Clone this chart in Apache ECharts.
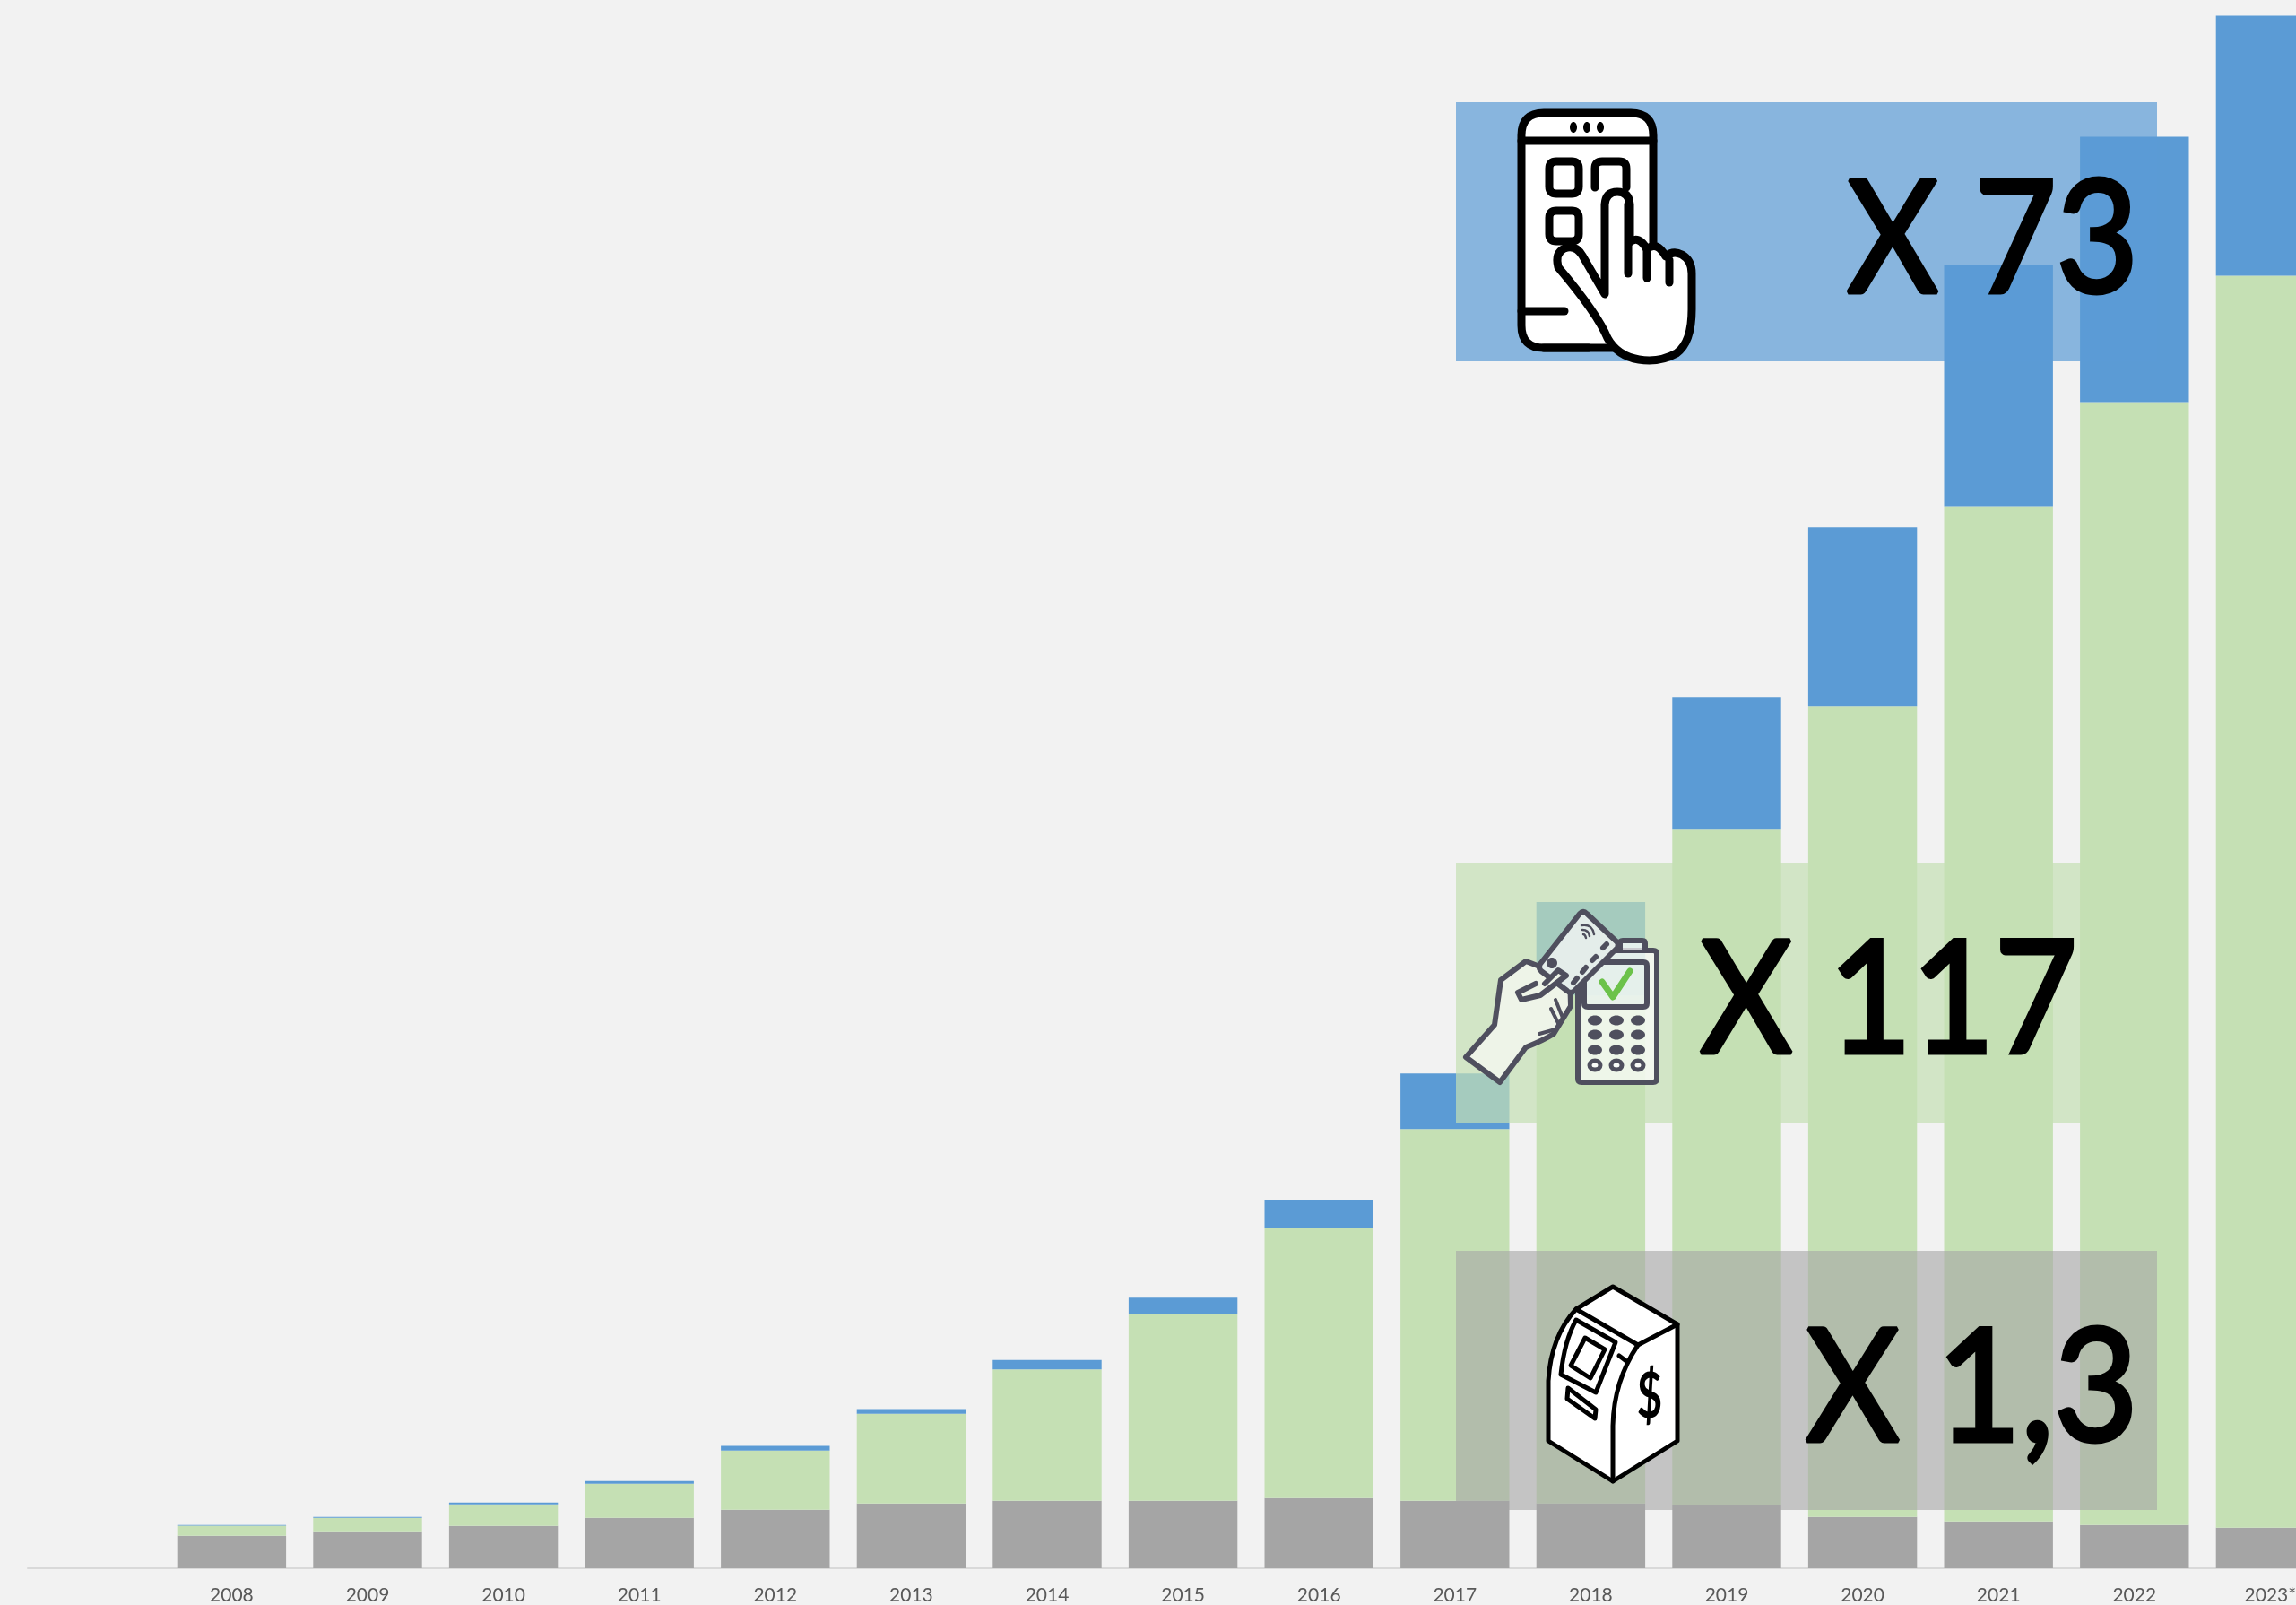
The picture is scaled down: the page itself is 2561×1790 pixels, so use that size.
<!DOCTYPE html>
<html>
<head>
<meta charset="utf-8">
<style>html,body{margin:0;padding:0;background:#f2f2f2;overflow:hidden;width:2561px;height:1790px}#c{width:2620px;height:1790px}</style>
<script src="https://cdn.jsdelivr.net/npm/echarts@6/dist/echarts.min.js"></script>
</head>
<body>
<div id="c"></div>
<script>
const years = ['', '2008','2009','2010','2011','2012','2013','2014','2015','2016','2017','2018','2019','2020','2021','2022','2023*'];
const cashValues   = [0, 3.63, 4.03, 4.73, 5.63, 6.53, 7.23, 7.53, 7.53, 7.83, 7.53, 7.23, 7.03, 5.73, 5.23, 4.83, 4.53];
const cardValues   = [0, 1.13, 1.6, 2.4, 3.8, 6.6, 10.0, 14.67, 20.87, 30.1, 41.47, 56.67, 75.4, 90.5, 113.3, 125.3, 139.7];
const mobileValues = [0, 0.07, 0.1, 0.2, 0.3, 0.53, 0.53, 1.03, 1.8, 3.2, 6.2, 10.43, 14.8, 19.9, 26.87, 29.6, 29.03];
const multipliers = ['X 73', 'X 117', 'X 1,3'];

const BLUE = '#5B9BD5', GREEN = '#C5E0B4', GRAY = '#A5A5A5';
let zc = 10, pc = 0;
const path = (d, style) => {
  const name = 'iconPath' + (pc++);
  echarts.graphic.registerShape(name, echarts.graphic.extendPath(d));
  return {type:name, z:zc++, style:Object.assign({lineJoin:'round',lineCap:'round'}, style)};
};
const rect = (x,y,w,h,fill,opacity) => ({type:'rect', z:zc++, shape:{x,y,width:w,height:h}, style:{fill,opacity}});
const ell = (cx,cy,rx,ry,style) => ({type:'ellipse', z:zc++, shape:{cx,cy,rx,ry}, style});
const label = (t,x,y,sx) => ({type:'text', z:zc++, x, y, scaleX:sx, scaleY:1, style:{text:t, fill:'#000', stroke:'#000', lineWidth:5, lineJoin:'round', font:'174px Lato', align:'left', verticalAlign:'middle'}});

const panels = [
  rect(1624,114,782,289,BLUE,0.7),
  rect(1624,963,782,289,GREEN,0.7),
  rect(1624,1395,782,289,GRAY,0.6)
];
const K = {stroke:'#000', lineWidth:9, fill:null};
const phoneIcon = [
  path('M1722 126 H1819 Q1844 126 1844 151 V363 Q1844 388 1819 388 H1722 Q1697 388 1697 363 V151 Q1697 126 1722 126 Z', {fill:'#fff', stroke:'#000', lineWidth:9}),
  path('M1697 157 H1844', K),
  ell(1755,142,4,6,{fill:'#000'}), ell(1770,142,4,6,{fill:'#000'}), ell(1785,142,4,6,{fill:'#000'}),
  path('M1736 180 H1753 Q1761 180 1761 188 V208 Q1761 216 1753 216 H1736 Q1728 216 1728 208 V188 Q1728 180 1736 180 Z', K),
  path('M1736 235 H1753 Q1761 235 1761 243 V261 Q1761 269 1753 269 H1736 Q1728 269 1728 261 V243 Q1728 235 1736 235 Z', K),
  path('M1779 209 V188 Q1779 180 1787 180 H1806 Q1814 180 1814 188 V209', K),
  path('M1697 347 H1745', K),
  path('M1722 388 H1772', K),
  path('M1790 328 V228 Q1791 214 1804 214 Q1817 214 1818 228 V270 Q1828 262 1837 278 Q1848 268 1858 286 Q1866 279 1876 284 Q1887 290 1887 305 V345 Q1887 382 1870 394 Q1850 405 1828 401 Q1804 397 1793 377 Q1782 350 1738 298 Q1734 282 1745 277 Q1757 272 1765 285 Z', {fill:'#fff', stroke:'#000', lineWidth:9}),
  path('M1816 228 V305', K),
  path('M1837 278 V310', K),
  path('M1862 290 V315', K)
];
const S = '#4f4f5e';
const LIGHT = 'rgba(255,255,255,0.7)';
const HAND = '#eef4e8', CARD = '#e4edea';
const posIcon = [
  path('M1763 1060 H1844 Q1848 1060 1848 1064 V1203 Q1848 1207 1844 1207 H1764 Q1760 1207 1760 1203 V1064 Q1760 1060 1763 1060 Z', {fill:LIGHT, stroke:S, lineWidth:6}),
  path('M1807 1060 V1052 Q1807 1049 1810 1049 H1832 Q1835 1049 1835 1052 V1060', {fill:LIGHT, stroke:S, lineWidth:6}),
  path('M1771 1073 H1833 Q1837 1073 1837 1077 V1119 Q1837 1123 1833 1123 H1771 Q1767 1123 1767 1119 V1077 Q1767 1073 1771 1073 Z', {fill:'rgba(230,240,235,0.6)', stroke:S, lineWidth:6}),
  path('M1787 1095 L1799 1112 L1818 1083', {fill:null, stroke:'#6CC24A', lineWidth:7}),
  path('M1635 1179 L1673 1207 L1702 1168 Q1722 1160 1733 1153 L1752 1122 L1751 1085 L1715 1077 L1702 1072 L1674 1093 L1667 1143 Z', {fill:HAND, stroke:S, lineWidth:6}),
  path('M1762 1019 Q1766 1015 1770 1019 L1803 1050 Q1806 1053 1804 1057 L1756 1105 Q1752 1109 1748 1105 L1719 1083 Q1715 1079 1718 1075 Z', {fill:CARD, stroke:S, lineWidth:6}),
  path('M1713 1097 L1693 1107 L1697 1115 L1718 1110 L1747 1088 L1738 1082 L1723 1097', {fill:HAND, stroke:S, lineWidth:6}),
  ell(1731,1074,6,6,{fill:S}),
  path('M1764 1032 Q1776 1030 1778 1042', {fill:null, stroke:S, lineWidth:2.5}),
  path('M1765 1037 Q1772 1037 1773 1044', {fill:null, stroke:S, lineWidth:2.5}),
  path('M1766 1042 Q1768 1042 1769 1046', {fill:null, stroke:S, lineWidth:2.5}),
  path('M1788 1057 L1792 1053', {fill:null, stroke:S, lineWidth:6}),
  path('M1776 1071 L1780 1067', {fill:null, stroke:S, lineWidth:6}),
  path('M1765 1084 L1769 1079', {fill:null, stroke:S, lineWidth:6}),
  path('M1755 1096 L1759 1091', {fill:null, stroke:S, lineWidth:6}),
  path('M1735 1115 L1743 1135 M1730 1125 L1739 1143 M1717 1153 L1735 1148', {fill:null, stroke:S, lineWidth:4}),
];
[1138,1154,1171].forEach(y => [1779,1803,1827].forEach(x => posIcon.push(ell(x,y,8,5.5,{fill:S}))));
[1779,1803,1827].forEach(x => posIcon.push(ell(x,1188,6,5,{fill:LIGHT, stroke:S, lineWidth:5})));
const A = {fill:null, stroke:'#000', lineWidth:5};
const atmIcon = [
  path('M1799 1435 L1871 1477 V1607 L1799 1652 L1727 1607 V1540 Q1730 1490 1758 1460 Z', {fill:'#fff', stroke:'#000', lineWidth:5}),
  path('M1758 1460 L1827 1500 L1871 1477', A),
  path('M1827 1500 Q1800 1540 1799 1590 V1652', A),
  path('M1758 1472 L1802 1497 L1780 1553 L1741 1533 Q1745 1495 1758 1472 Z', A),
  path('M1768 1492 L1790 1505 L1774 1537 L1752 1523 Z', A),
  path('M1749 1548 L1780 1572 L1779 1582 L1748 1560 Z', A),
  path('M1806 1512 L1814 1518', A),
  {type:'text', z:zc++, x:1840, y:1558, scaleX:0.7, style:{text:'$', font:'bold 70px Lato', fill:'#000', align:'center', verticalAlign:'middle'}}
];
zc = 1000;
const texts = [
  label(multipliers[0],2060,270,0.905),
  label(multipliers[1],1896,1118,0.915),
  label(multipliers[2],2014,1551,0.93)
];
const bar = (name,data,color) => ({name,type:'bar',stack:'t',data,barWidth:121.4,itemStyle:{color},silent:true,z:2,animation:false});

const chart = echarts.init(document.getElementById('c'), null, {renderer:'canvas', width:2620, height:1790});
chart.setOption({
  animation:false,
  backgroundColor:'#f2f2f2',
  grid:{left:31, top:0, width:2577.2, height:1750, containLabel:false},
  xAxis:{type:'category', data:years, axisTick:{show:false},
    axisLine:{lineStyle:{color:'#d9d9d9',width:2}},
    axisLabel:{interval:0, color:'#595959', fontFamily:'Lato', fontSize:21, margin:20, hideOverlap:false}},
  yAxis:{type:'value', min:0, max:175, show:false, splitLine:{show:false}},
  series:[bar('Cash',cashValues,GRAY), bar('Card',cardValues,GREEN), bar('Mobile',mobileValues,BLUE)],
  graphic:{elements:[...panels, ...phoneIcon, ...posIcon, ...atmIcon, ...texts]}
});
</script>
</body>
</html>
